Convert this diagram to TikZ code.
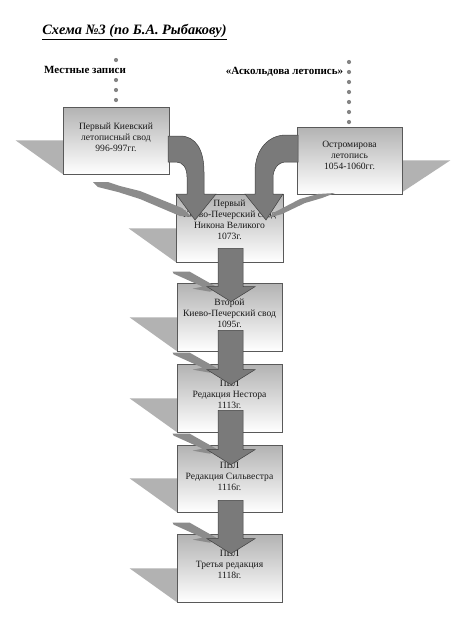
\documentclass[tikz,border=0pt]{standalone}
\usepackage{fontspec}
\setmainfont{Liberation Serif}
\usetikzlibrary{calc,backgrounds}
\newcommand\fatdown[4]{%
  \draw[fatarrow] ($(#1.south)+(-11.5,#3)$) -- ($(#1.south)+(13.5,#3)$)
    -- ($(#2.north)+(13.5,-#4)$) -- ($(#2.north)+(25.5,-#4)$)
    -- ($(#2.north)+(1.5,-#4-15)$) -- ($(#2.north)+(-22.5,-#4)$)
    -- ($(#2.north)+(-11.5,-#4)$) -- cycle;}
\newcommand\sliverat[1]{%
  \fill[sliver] ($(#1.north west)+(-4,11)$) -- ($(#1.north west)+(13,11)$)
    -- ($(#1.north west)+(43,-6)$) -- ($(#1.north west)+(33,-9)$)
    -- ($(#1.north west)+(16,-6)$) -- ($(#1.north west)+(26,-4)$)
    -- ($(#1.north west)+(-3,9)$) -- cycle;}
\newcommand\tri[1]{%
  \fill[shadowtri] ($(#1.south west)+(-47,34)$) -- ($(#1.south west)+(0.5,34)$)
    -- ($(#1.south west)+(0.5,0)$) -- cycle;}
\begin{document}
\begin{tikzpicture}[x=1pt,y=1pt,
  box/.style={draw=black!65, line width=0.7pt, top color=black!30, bottom color=white,
    minimum width=105pt, minimum height=68pt, inner sep=0pt},
  btext/.style={align=center, font=\fontsize{9.6}{11}\selectfont, text=black!90, inner sep=0pt},
  lab/.style={font=\fontsize{11}{13}\selectfont\bfseries, fill=white, inner sep=0.6pt},
  shadowtri/.style={fill=black!30},
  sliver/.style={fill=black!45},
  fatarrow/.style={fill=black!52, draw=black!75, line width=0.5pt, line join=miter},
  dotline/.style={draw=black!48, line width=4.2pt, line cap=round, dash pattern=on 0pt off 10pt}]
\useasboundingbox (0,0) rectangle (457,-622);

% boxes
\node[box, minimum width=106pt, minimum height=67pt] (b1) at (116,-140.5) {};
\node[box, minimum width=105pt, minimum height=67pt] (b2) at (349.5,-160.5) {};
\node[box, minimum width=107pt] (b3) at (229.5,-228) {};
\node[box] (b4) at (229.5,-317) {};
\node[box] (b5) at (229.5,-398) {};
\node[box, minimum height=67pt] (b6) at (229.5,-478.5) {};
\node[box] (b7) at (229.5,-568) {};

% shadow triangles (behind boxes)
\begin{pgfonlayer}{background}
\fill[white] (0,0) rectangle (457,-622);
\tri{b1}
\tri{b3}\tri{b4}\tri{b5}\tri{b6}\tri{b7}
\fill[shadowtri] ($(b2.south east)+(-0.5,34)$) -- ($(b2.south east)+(48,34)$)
  -- ($(b2.south east)+(-0.5,2)$) -- cycle;
\end{pgfonlayer}

% box texts
\node[btext] (t1) at (116,-137.5) {Первый Киевский\\летописный свод\\996-997гг.};
\node[btext] (t2) at (349.5,-155.5) {Остромирова\\летопись\\1054-1060гг.};
\node[btext] (t3) at (229.5,-219.5) {Первый\\Киево-Печерский свод\\Никона Великого\\1073г.};
\node[btext] (t4) at (229.5,-313) {Второй\\Киево-Печерский свод\\1095г.};
\node[btext] (t5) at (229.5,-394) {ПВЛ\\Редакция Нестора\\1113г.};
\node[btext] (t6) at (229.5,-476) {ПВЛ\\Редакция Сильвестра\\1116г.};
\node[btext] (t7) at (229.5,-564) {ПВЛ\\Третья редакция\\1118г.};

% dotted connectors from the labels
\coordinate (d1a) at (116,-60);
\coordinate (d1b) at (116,-110);
\coordinate (d2a) at (349,-62);
\coordinate (d2b) at (349,-132);
\draw[dotline] (d1a) -- (d1b);
\draw[dotline] (d2a) -- (d2b);

% title and labels
\node (title) at (134.5,-32) {\fontsize{14.3}{16}\selectfont\bfseries\itshape\underline{Схема №3 (по Б.А. Рыбакову)}};
\node[lab] (m) at (85,-70) {Местные записи};
\node[lab] (a) at (284.5,-72) {«Аскольдова летопись»};

% slivers
\fill[sliver] (93,-182) -- (108,-182) -- (120,-186) -- (140,-191) -- (182,-208) -- (192,-217)
  -- (180,-216) -- (140,-199) -- (118,-192) -- (98,-187) -- cycle;
\fill[sliver] (335,-193) -- (318,-194) -- (300,-199) -- (275,-212) -- (268,-218)
  -- (282,-214) -- (305,-203) -- (322,-198) -- cycle;
\sliverat{b4}\sliverat{b5}\sliverat{b6}\sliverat{b7}

% curved arrows into b3
\draw[fatarrow] (168,-136) -- (180,-136) .. controls (196,-136) and (204,-150) .. (204,-172)
  -- (204,-194) -- (216,-194) -- (195,-220) -- (176,-194) -- (187,-194) -- (187,-177)
  .. controls (187,-168) and (183,-162) .. (176,-162) -- (168,-162) -- cycle;
\draw[fatarrow] (298,-135) -- (286,-135) .. controls (268,-135) and (255,-150) .. (255,-172)
  -- (255,-194) -- (245,-194) -- (266,-220) -- (283,-194) -- (273,-194) -- (273,-178)
  .. controls (273,-169) and (278,-162) .. (286,-162) -- (298,-162) -- cycle;

% straight arrows down the column
\fatdown{b3}{b4}{14}{4}
\fatdown{b4}{b5}{21}{6}
\fatdown{b5}{b6}{22}{5}
\fatdown{b6}{b7}{12}{5}
\end{tikzpicture}
\end{document}
